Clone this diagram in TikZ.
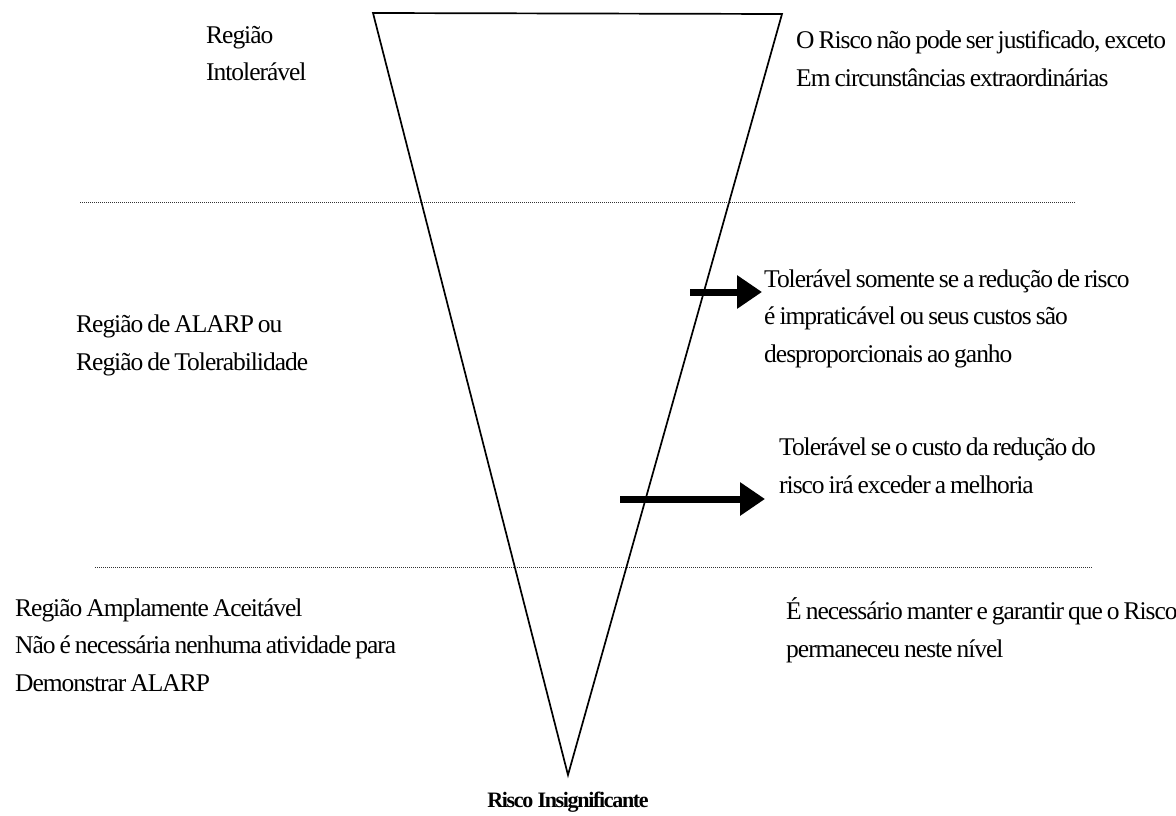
\documentclass[tikz,border=0pt]{standalone}
\usepackage{fontspec}
\setmainfont[WordSpace=0.75,LetterSpace=-4]{Liberation Serif}
\newfontfamily\tightbold[LetterSpace=-6]{Liberation Serif}
\usetikzlibrary{arrows.meta}
\begin{document}
\begin{tikzpicture}[x=1pt,y=-1pt,
  % multi-line labels: the base anchor sits on the last line
  lbl/.style={anchor=base west, inner sep=0pt, align=left,
    font=\fontsize{25.5}{37.5}\selectfont},
  sep/.style={densely dotted, line width=1pt, black!80},
  fat/.style={line width=7pt, -{Triangle[length=25pt,width=32pt]}},
  cone/.style={line width=1.7pt, line join=miter}]
\useasboundingbox[fill=white] (0,0) rectangle (1176,816);

% inverted risk triangle
\coordinate (tl) at (373,13);
\coordinate (tr) at (782,14);
\coordinate (tip) at (568,775);
\draw[cone] (tl) -- (tr) -- (tip) -- cycle;

% region boundaries
\coordinate (s1a) at (80,202);
\coordinate (s1b) at (1075,202);
\coordinate (s2a) at (95,567);
\coordinate (s2b) at (1092,567);
\draw[sep] (s1a) -- (s1b);
\draw[sep] (s2a) -- (s2b);

% left column
\node[lbl] (intol) at (206,81) {Região\\Intolerável};
\node[lbl] (alarp) at (76,370) {Região de ALARP ou\\Região de Tolerabilidade};
\node[lbl] (aceit) at (15,691) {Região Amplamente Aceitável\\Não é necessária nenhuma atividade para\\Demonstrar ALARP};

% right column
\node[lbl] (just) at (796,86) {O Risco não pode ser justificado, exceto\\Em circunstâncias extraordinárias};
\node[lbl] (tol1) at (764,362) {Tolerável somente se a redução de risco\\é impraticável ou seus custos são\\desproporcionais ao ganho};
\node[lbl] (tol2) at (779,493) {Tolerável se o custo da redução do\\risco irá exceder a melhoria};
\node[lbl] (mant) at (786,657) {É necessário manter e garantir que o Risco\\permaneceu neste nível};

% arrows
\coordinate (a1s) at (690,292);
\coordinate (a1e) at (762,292);
\coordinate (a2s) at (620,499);
\coordinate (a2e) at (765,499);
\draw[fat] (a1s) -- (a1e);
\draw[fat] (a2s) -- (a2e);

% bottom label
\node[anchor=base, inner sep=0pt, font=\tightbold\fontsize{22}{26}\selectfont\bfseries] (insig) at (568,807) {Risco Insignificante};
\end{tikzpicture}
\end{document}
